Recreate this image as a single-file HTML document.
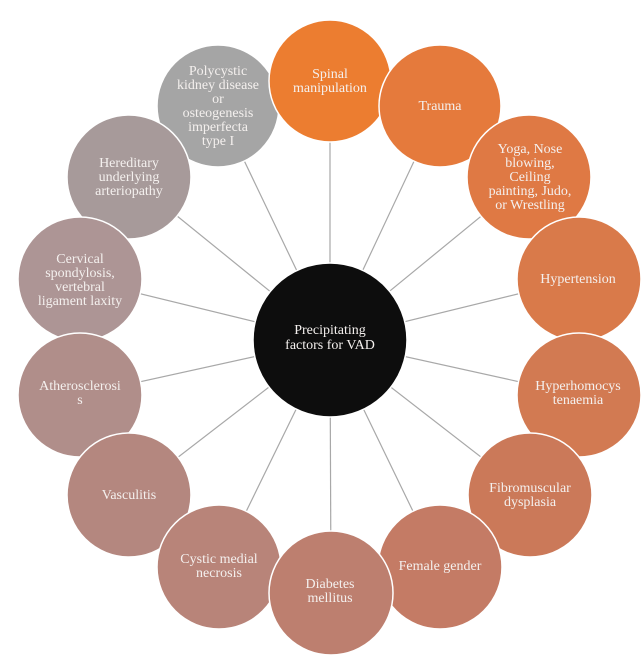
<!DOCTYPE html>
<html><head><meta charset="utf-8"><style>
body{margin:0;background:#fff}
svg text{font-family:"Liberation Serif",serif;font-size:14px;fill:#f4f0ee;text-anchor:middle}
</style></head><body>
<svg width="643" height="658" viewBox="0 0 643 658" xmlns="http://www.w3.org/2000/svg">
<g stroke="#a8a8a8" stroke-width="1.2">
<line x1="330" y1="340" x2="330" y2="81"/>
<line x1="330" y1="340" x2="440" y2="106"/>
<line x1="330" y1="340" x2="529" y2="177"/>
<line x1="330" y1="340" x2="579" y2="279"/>
<line x1="330" y1="340" x2="579" y2="395"/>
<line x1="330" y1="340" x2="530" y2="495"/>
<line x1="330" y1="340" x2="440" y2="567"/>
<line x1="330" y1="340" x2="331" y2="593"/>
<line x1="330" y1="340" x2="219" y2="567"/>
<line x1="330" y1="340" x2="129" y2="495"/>
<line x1="330" y1="340" x2="80" y2="395"/>
<line x1="330" y1="340" x2="80" y2="279"/>
<line x1="330" y1="340" x2="129" y2="177"/>
<line x1="330" y1="340" x2="218" y2="106"/>
</g>
<g stroke="#fff" stroke-width="1.5">
<circle cx="218" cy="106" r="61" fill="#a5a5a5"/>
<circle cx="330" cy="81" r="61" fill="#ec7d30"/>
<circle cx="440" cy="106" r="61" fill="#e57a3c"/>
<circle cx="529" cy="177" r="62" fill="#df7944"/>
<circle cx="579" cy="279" r="62" fill="#d97a4a"/>
<circle cx="579" cy="395" r="62" fill="#d27a52"/>
<circle cx="530" cy="495" r="62" fill="#cb7959"/>
<circle cx="129" cy="177" r="62" fill="#a79a9a"/>
<circle cx="80" cy="279" r="62" fill="#ad9595"/>
<circle cx="80" cy="395" r="62" fill="#b08e8a"/>
<circle cx="129" cy="495" r="62" fill="#b4877f"/>
<circle cx="219" cy="567" r="62" fill="#b88479"/>
<circle cx="440" cy="567" r="62" fill="#c47b65"/>
<circle cx="331" cy="593" r="62" fill="#bd7f6f"/>
</g>
<circle cx="330" cy="340" r="77" fill="#0d0d0d" stroke="#fff" stroke-width="1.5"/>
<text x="330" y="334">Precipitating</text>
<text x="330" y="349">factors for VAD</text>
<text x="330" y="78">Spinal</text><text x="330" y="92">manipulation</text>
<text x="440" y="110">Trauma</text>
<text x="530" y="153">Yoga, Nose</text><text x="530" y="167">blowing,</text><text x="530" y="181">Ceiling</text><text x="530" y="195">painting, Judo,</text><text x="530" y="209">or Wrestling</text>
<text x="578" y="283">Hypertension</text>
<text x="578" y="390">Hyperhomocys</text><text x="578" y="404">tenaemia</text>
<text x="530" y="492">Fibromuscular</text><text x="530" y="506">dysplasia</text>
<text x="440" y="570">Female gender</text>
<text x="330" y="588">Diabetes</text><text x="330" y="602">mellitus</text>
<text x="219" y="563">Cystic medial</text><text x="219" y="577">necrosis</text>
<text x="129" y="499">Vasculitis</text>
<text x="80" y="390">Atherosclerosi</text><text x="80" y="404">s</text>
<text x="80" y="263">Cervical</text><text x="80" y="277">spondylosis,</text><text x="80" y="291">vertebral</text><text x="80" y="305">ligament laxity</text>
<text x="129" y="167">Hereditary</text><text x="129" y="181">underlying</text><text x="129" y="195">arteriopathy</text>
<text x="218" y="75">Polycystic</text><text x="218" y="89">kidney disease</text><text x="218" y="103">or</text><text x="218" y="117">osteogenesis</text><text x="218" y="131">imperfecta</text><text x="218" y="145">type I</text>
</svg>
</body></html>
